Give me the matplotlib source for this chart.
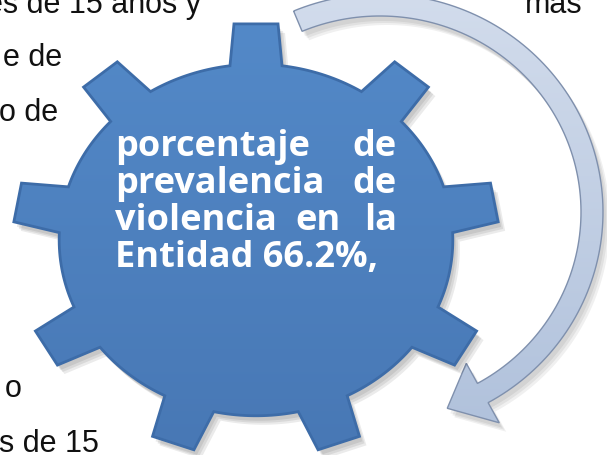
import numpy as np
import matplotlib.pyplot as plt
from matplotlib.patches import Polygon
from matplotlib.colors import LinearSegmentedColormap

# gear centre / radii (pixel space, y down)
gear_cx, gear_cy = 256, 241
gear_rx, gear_ry = 243, 217
n_teeth = 9
r_body = 0.81

# curved arrow ellipse
arr_cx, arr_cy = 380, 213
arr_rx, arr_ry = 212, 207
arr_start, arr_end, arr_tip = 112.8, -61.0, -71.5
band = 11
head = 34

# text in the gear (justified lines: list of (word, x, align))
gear_lines = [
    [("porcentaje", 115, "left"), ("de", 397, "right")],
    [("prevalencia", 115, "left"), ("de", 397, "right")],
    [("violencia", 115, "left"), ("en", 318, "center"), ("la", 397, "right")],
    [("Entidad 66.2%,", 115, "left")],
]
gear_baselines = [156, 193, 230, 267]

# body text behind the figure (visible fragments)
body_frags = ["es de 15 años y", "más", "e de", "o de", "o", "s de 15"]
body_right = [201, 583, 62, 58, 22, 99]
body_base = [13, 13, 66, 121, 397, 452]


def gear_outline():
    pts = []
    step = 360.0 / n_teeth
    a_tip, a_base = 5.2, 7.6
    for k in range(n_teeth):
        c = 90 + k * step
        pts.append((r_body, c - a_base))
        pts.append((1.0, c - a_tip))
        pts.append((1.0, c + a_tip))
        pts.append((r_body, c + a_base))
        for a in np.linspace(c + a_base, c + step - a_base, 20)[1:-1]:
            pts.append((r_body, a))
    pts = np.array(pts)
    ang = np.radians(pts[:, 1])
    x = gear_cx + gear_rx * pts[:, 0] * np.cos(ang)
    y = gear_cy - gear_ry * pts[:, 0] * np.sin(ang)
    return np.column_stack([x, y])


def ell(t, off):
    t = np.radians(t)
    return np.column_stack([arr_cx + (arr_rx + off) * np.cos(t),
                            arr_cy - (arr_ry + off) * np.sin(t)])


def arrow_outline():
    t = np.linspace(arr_start, arr_end, 120)
    outer = ell(t, band)
    inner = ell(t[::-1], -band)
    headpts = np.vstack([ell([arr_end], head), ell([arr_tip], 0),
                         ell([arr_end], -head)])
    return np.vstack([outer, headpts, inner])


def grad_fill(ax, verts, c1, c2, z):
    cmap = LinearSegmentedColormap.from_list("g", [c1, c2])
    x0, y0 = verts.min(axis=0)
    x1, y1 = verts.max(axis=0)
    img = ax.imshow(np.linspace(0, 1, 256).reshape(-1, 1), cmap=cmap,
                    extent=[x0, x1, y1, y0], aspect="auto", zorder=z,
                    interpolation="bicubic")
    clip = Polygon(verts, closed=True, facecolor="none", edgecolor="none")
    ax.add_patch(clip)
    img.set_clip_path(clip)


fig = plt.figure(figsize=(6.07, 4.56), dpi=100)
ax = fig.add_axes([0, 0, 1, 1])
ax.set_xlim(0, 607)
ax.set_ylim(456, 0)
ax.axis("off")

for s, xr, yb in zip(body_frags, body_right, body_base):
    ax.text(xr, yb, s, ha="right", va="baseline", fontsize=22,
            family="Liberation Sans", color="#111111", zorder=1)

# arrow
av = arrow_outline()
for d in [(3, 5), (5, 7), (7, 9)]:
    ax.add_patch(Polygon(av + d, closed=True, facecolor="#000000",
                         alpha=0.06, edgecolor="none", zorder=2))
grad_fill(ax, av, "#d2dcec", "#b1c2dc", 3)
ax.add_patch(Polygon(av, closed=True, facecolor="none", edgecolor="#7f90ad",
                     lw=1.0, zorder=3.5))

# gear
gv = gear_outline()
for d in [(3, 5), (5, 7), (7, 9)]:
    ax.add_patch(Polygon(gv + d, closed=True, facecolor="#000000",
                         alpha=0.08, edgecolor="none", zorder=4))
grad_fill(ax, gv, "#5389c8", "#4878b5", 5)
ax.add_patch(Polygon(gv, closed=True, facecolor="none", edgecolor="#3d6ca8",
                     lw=2.0, zorder=5.5))

for words, yb in zip(gear_lines, gear_baselines):
    for w, x, ha in words:
        ax.text(x, yb, w, ha=ha, va="baseline", fontsize=26,
                family="Open Sans", weight="bold", color="white", zorder=6)

fig.savefig("out.png", dpi=100)
